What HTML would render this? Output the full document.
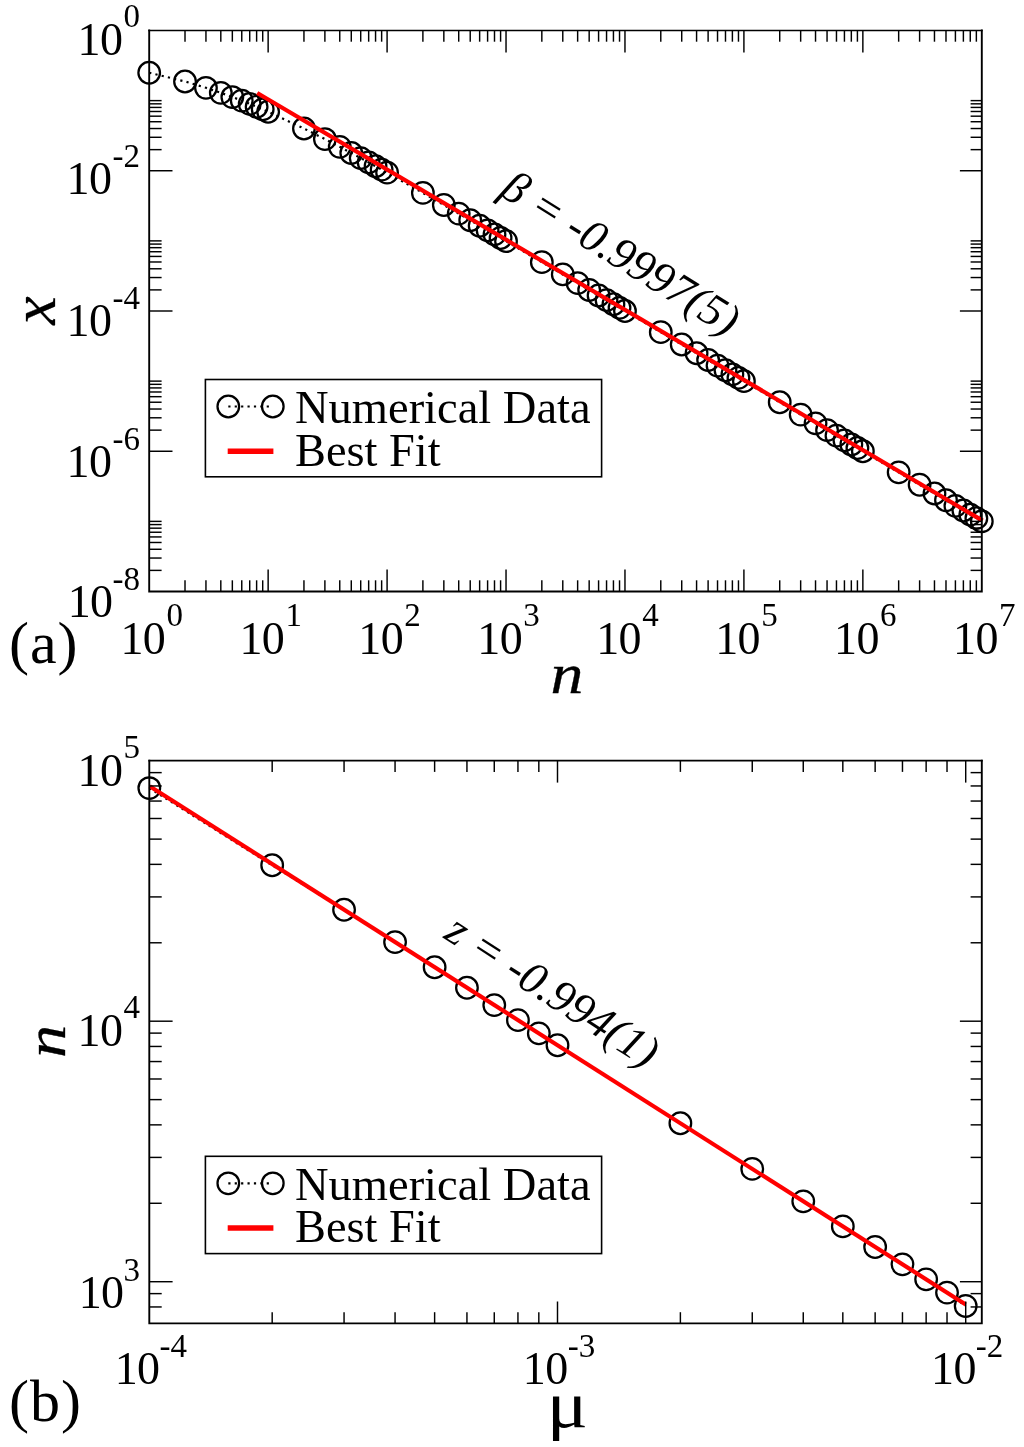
<!DOCTYPE html>
<html lang="en"><head><meta charset="utf-8"><title>Figure</title>
<style>html,body{margin:0;padding:0;background:#fff}svg{display:block}</style>
</head><body>
<svg width="1024" height="1447" viewBox="0 0 1024 1447" font-family='"Liberation Serif", "DejaVu Serif", serif' fill="#000">
<rect width="1024" height="1447" fill="#fff"/>
<g id="panelA">
<polyline points="149.20,72.72 185.01,81.48 205.95,87.80 220.81,92.84 232.34,97.05 241.76,100.68 249.72,103.88 256.62,106.75 262.70,109.35 268.14,111.73 303.95,128.49 324.89,139.05 339.75,146.82 351.28,152.97 360.70,158.07 368.66,162.43 375.56,166.23 381.64,169.61 387.09,172.65 422.89,192.92 443.84,204.96 458.70,213.56 470.22,220.25 479.64,225.73 487.60,230.37 494.50,234.40 500.59,237.96 506.03,241.14 541.83,262.13 562.78,274.43 577.64,283.17 589.17,289.95 598.58,295.50 606.55,300.18 613.44,304.25 619.53,307.83 624.97,311.03 660.78,332.13 681.72,344.47 696.58,353.23 708.11,360.02 717.53,365.57 725.49,370.27 732.39,374.33 738.47,377.92 743.91,381.13 779.72,402.24 800.66,414.58 815.53,423.35 827.05,430.14 836.47,435.69 844.43,440.39 851.33,444.45 857.41,448.04 862.86,451.25 898.66,472.36 919.61,484.71 934.47,493.47 945.99,500.27 955.41,505.82 963.38,510.51 970.27,514.58 976.36,518.17 981.80,521.38" fill="none" stroke="#000" stroke-width="2.2" stroke-dasharray="2.2 4.2"/>
<g fill="none" stroke="#000" stroke-width="2.25">
<circle cx="149.20" cy="72.72" r="10.8"/>
<circle cx="185.01" cy="81.48" r="10.8"/>
<circle cx="205.95" cy="87.80" r="10.8"/>
<circle cx="220.81" cy="92.84" r="10.8"/>
<circle cx="232.34" cy="97.05" r="10.8"/>
<circle cx="241.76" cy="100.68" r="10.8"/>
<circle cx="249.72" cy="103.88" r="10.8"/>
<circle cx="256.62" cy="106.75" r="10.8"/>
<circle cx="262.70" cy="109.35" r="10.8"/>
<circle cx="268.14" cy="111.73" r="10.8"/>
<circle cx="303.95" cy="128.49" r="10.8"/>
<circle cx="324.89" cy="139.05" r="10.8"/>
<circle cx="339.75" cy="146.82" r="10.8"/>
<circle cx="351.28" cy="152.97" r="10.8"/>
<circle cx="360.70" cy="158.07" r="10.8"/>
<circle cx="368.66" cy="162.43" r="10.8"/>
<circle cx="375.56" cy="166.23" r="10.8"/>
<circle cx="381.64" cy="169.61" r="10.8"/>
<circle cx="387.09" cy="172.65" r="10.8"/>
<circle cx="422.89" cy="192.92" r="10.8"/>
<circle cx="443.84" cy="204.96" r="10.8"/>
<circle cx="458.70" cy="213.56" r="10.8"/>
<circle cx="470.22" cy="220.25" r="10.8"/>
<circle cx="479.64" cy="225.73" r="10.8"/>
<circle cx="487.60" cy="230.37" r="10.8"/>
<circle cx="494.50" cy="234.40" r="10.8"/>
<circle cx="500.59" cy="237.96" r="10.8"/>
<circle cx="506.03" cy="241.14" r="10.8"/>
<circle cx="541.83" cy="262.13" r="10.8"/>
<circle cx="562.78" cy="274.43" r="10.8"/>
<circle cx="577.64" cy="283.17" r="10.8"/>
<circle cx="589.17" cy="289.95" r="10.8"/>
<circle cx="598.58" cy="295.50" r="10.8"/>
<circle cx="606.55" cy="300.18" r="10.8"/>
<circle cx="613.44" cy="304.25" r="10.8"/>
<circle cx="619.53" cy="307.83" r="10.8"/>
<circle cx="624.97" cy="311.03" r="10.8"/>
<circle cx="660.78" cy="332.13" r="10.8"/>
<circle cx="681.72" cy="344.47" r="10.8"/>
<circle cx="696.58" cy="353.23" r="10.8"/>
<circle cx="708.11" cy="360.02" r="10.8"/>
<circle cx="717.53" cy="365.57" r="10.8"/>
<circle cx="725.49" cy="370.27" r="10.8"/>
<circle cx="732.39" cy="374.33" r="10.8"/>
<circle cx="738.47" cy="377.92" r="10.8"/>
<circle cx="743.91" cy="381.13" r="10.8"/>
<circle cx="779.72" cy="402.24" r="10.8"/>
<circle cx="800.66" cy="414.58" r="10.8"/>
<circle cx="815.53" cy="423.35" r="10.8"/>
<circle cx="827.05" cy="430.14" r="10.8"/>
<circle cx="836.47" cy="435.69" r="10.8"/>
<circle cx="844.43" cy="440.39" r="10.8"/>
<circle cx="851.33" cy="444.45" r="10.8"/>
<circle cx="857.41" cy="448.04" r="10.8"/>
<circle cx="862.86" cy="451.25" r="10.8"/>
<circle cx="898.66" cy="472.36" r="10.8"/>
<circle cx="919.61" cy="484.71" r="10.8"/>
<circle cx="934.47" cy="493.47" r="10.8"/>
<circle cx="945.99" cy="500.27" r="10.8"/>
<circle cx="955.41" cy="505.82" r="10.8"/>
<circle cx="963.38" cy="510.51" r="10.8"/>
<circle cx="970.27" cy="514.58" r="10.8"/>
<circle cx="976.36" cy="518.17" r="10.8"/>
<circle cx="981.80" cy="521.38" r="10.8"/>
</g>
<line x1="257.20" y1="93.00" x2="982.60" y2="520.67" stroke="#f00" stroke-width="4.2" />
<path d="M149.2 30.5V591.5H981.8V30.5" fill="none" stroke="#000" stroke-width="1.9" stroke-linecap="square"/>
<line x1="148.30" y1="30.50" x2="982.70" y2="30.50" stroke="#000" stroke-width="1.5" />
<g stroke="#000" stroke-width="1.45">
<line x1="185.01" y1="30.50" x2="185.01" y2="41.70" stroke="#000" stroke-width="1.45" />
<line x1="185.01" y1="591.50" x2="185.01" y2="580.30" stroke="#000" stroke-width="1.45" />
<line x1="205.95" y1="30.50" x2="205.95" y2="41.70" stroke="#000" stroke-width="1.45" />
<line x1="205.95" y1="591.50" x2="205.95" y2="580.30" stroke="#000" stroke-width="1.45" />
<line x1="220.81" y1="30.50" x2="220.81" y2="41.70" stroke="#000" stroke-width="1.45" />
<line x1="220.81" y1="591.50" x2="220.81" y2="580.30" stroke="#000" stroke-width="1.45" />
<line x1="232.34" y1="30.50" x2="232.34" y2="41.70" stroke="#000" stroke-width="1.45" />
<line x1="232.34" y1="591.50" x2="232.34" y2="580.30" stroke="#000" stroke-width="1.45" />
<line x1="241.76" y1="30.50" x2="241.76" y2="41.70" stroke="#000" stroke-width="1.45" />
<line x1="241.76" y1="591.50" x2="241.76" y2="580.30" stroke="#000" stroke-width="1.45" />
<line x1="249.72" y1="30.50" x2="249.72" y2="41.70" stroke="#000" stroke-width="1.45" />
<line x1="249.72" y1="591.50" x2="249.72" y2="580.30" stroke="#000" stroke-width="1.45" />
<line x1="256.62" y1="30.50" x2="256.62" y2="41.70" stroke="#000" stroke-width="1.45" />
<line x1="256.62" y1="591.50" x2="256.62" y2="580.30" stroke="#000" stroke-width="1.45" />
<line x1="262.70" y1="30.50" x2="262.70" y2="41.70" stroke="#000" stroke-width="1.45" />
<line x1="262.70" y1="591.50" x2="262.70" y2="580.30" stroke="#000" stroke-width="1.45" />
<line x1="268.14" y1="30.50" x2="268.14" y2="52.40" stroke="#000" stroke-width="1.45" />
<line x1="268.14" y1="591.50" x2="268.14" y2="569.60" stroke="#000" stroke-width="1.45" />
<line x1="303.95" y1="30.50" x2="303.95" y2="41.70" stroke="#000" stroke-width="1.45" />
<line x1="303.95" y1="591.50" x2="303.95" y2="580.30" stroke="#000" stroke-width="1.45" />
<line x1="324.89" y1="30.50" x2="324.89" y2="41.70" stroke="#000" stroke-width="1.45" />
<line x1="324.89" y1="591.50" x2="324.89" y2="580.30" stroke="#000" stroke-width="1.45" />
<line x1="339.75" y1="30.50" x2="339.75" y2="41.70" stroke="#000" stroke-width="1.45" />
<line x1="339.75" y1="591.50" x2="339.75" y2="580.30" stroke="#000" stroke-width="1.45" />
<line x1="351.28" y1="30.50" x2="351.28" y2="41.70" stroke="#000" stroke-width="1.45" />
<line x1="351.28" y1="591.50" x2="351.28" y2="580.30" stroke="#000" stroke-width="1.45" />
<line x1="360.70" y1="30.50" x2="360.70" y2="41.70" stroke="#000" stroke-width="1.45" />
<line x1="360.70" y1="591.50" x2="360.70" y2="580.30" stroke="#000" stroke-width="1.45" />
<line x1="368.66" y1="30.50" x2="368.66" y2="41.70" stroke="#000" stroke-width="1.45" />
<line x1="368.66" y1="591.50" x2="368.66" y2="580.30" stroke="#000" stroke-width="1.45" />
<line x1="375.56" y1="30.50" x2="375.56" y2="41.70" stroke="#000" stroke-width="1.45" />
<line x1="375.56" y1="591.50" x2="375.56" y2="580.30" stroke="#000" stroke-width="1.45" />
<line x1="381.64" y1="30.50" x2="381.64" y2="41.70" stroke="#000" stroke-width="1.45" />
<line x1="381.64" y1="591.50" x2="381.64" y2="580.30" stroke="#000" stroke-width="1.45" />
<line x1="387.09" y1="30.50" x2="387.09" y2="52.40" stroke="#000" stroke-width="1.45" />
<line x1="387.09" y1="591.50" x2="387.09" y2="569.60" stroke="#000" stroke-width="1.45" />
<line x1="422.89" y1="30.50" x2="422.89" y2="41.70" stroke="#000" stroke-width="1.45" />
<line x1="422.89" y1="591.50" x2="422.89" y2="580.30" stroke="#000" stroke-width="1.45" />
<line x1="443.84" y1="30.50" x2="443.84" y2="41.70" stroke="#000" stroke-width="1.45" />
<line x1="443.84" y1="591.50" x2="443.84" y2="580.30" stroke="#000" stroke-width="1.45" />
<line x1="458.70" y1="30.50" x2="458.70" y2="41.70" stroke="#000" stroke-width="1.45" />
<line x1="458.70" y1="591.50" x2="458.70" y2="580.30" stroke="#000" stroke-width="1.45" />
<line x1="470.22" y1="30.50" x2="470.22" y2="41.70" stroke="#000" stroke-width="1.45" />
<line x1="470.22" y1="591.50" x2="470.22" y2="580.30" stroke="#000" stroke-width="1.45" />
<line x1="479.64" y1="30.50" x2="479.64" y2="41.70" stroke="#000" stroke-width="1.45" />
<line x1="479.64" y1="591.50" x2="479.64" y2="580.30" stroke="#000" stroke-width="1.45" />
<line x1="487.60" y1="30.50" x2="487.60" y2="41.70" stroke="#000" stroke-width="1.45" />
<line x1="487.60" y1="591.50" x2="487.60" y2="580.30" stroke="#000" stroke-width="1.45" />
<line x1="494.50" y1="30.50" x2="494.50" y2="41.70" stroke="#000" stroke-width="1.45" />
<line x1="494.50" y1="591.50" x2="494.50" y2="580.30" stroke="#000" stroke-width="1.45" />
<line x1="500.59" y1="30.50" x2="500.59" y2="41.70" stroke="#000" stroke-width="1.45" />
<line x1="500.59" y1="591.50" x2="500.59" y2="580.30" stroke="#000" stroke-width="1.45" />
<line x1="506.03" y1="30.50" x2="506.03" y2="52.40" stroke="#000" stroke-width="1.45" />
<line x1="506.03" y1="591.50" x2="506.03" y2="569.60" stroke="#000" stroke-width="1.45" />
<line x1="541.83" y1="30.50" x2="541.83" y2="41.70" stroke="#000" stroke-width="1.45" />
<line x1="541.83" y1="591.50" x2="541.83" y2="580.30" stroke="#000" stroke-width="1.45" />
<line x1="562.78" y1="30.50" x2="562.78" y2="41.70" stroke="#000" stroke-width="1.45" />
<line x1="562.78" y1="591.50" x2="562.78" y2="580.30" stroke="#000" stroke-width="1.45" />
<line x1="577.64" y1="30.50" x2="577.64" y2="41.70" stroke="#000" stroke-width="1.45" />
<line x1="577.64" y1="591.50" x2="577.64" y2="580.30" stroke="#000" stroke-width="1.45" />
<line x1="589.17" y1="30.50" x2="589.17" y2="41.70" stroke="#000" stroke-width="1.45" />
<line x1="589.17" y1="591.50" x2="589.17" y2="580.30" stroke="#000" stroke-width="1.45" />
<line x1="598.58" y1="30.50" x2="598.58" y2="41.70" stroke="#000" stroke-width="1.45" />
<line x1="598.58" y1="591.50" x2="598.58" y2="580.30" stroke="#000" stroke-width="1.45" />
<line x1="606.55" y1="30.50" x2="606.55" y2="41.70" stroke="#000" stroke-width="1.45" />
<line x1="606.55" y1="591.50" x2="606.55" y2="580.30" stroke="#000" stroke-width="1.45" />
<line x1="613.44" y1="30.50" x2="613.44" y2="41.70" stroke="#000" stroke-width="1.45" />
<line x1="613.44" y1="591.50" x2="613.44" y2="580.30" stroke="#000" stroke-width="1.45" />
<line x1="619.53" y1="30.50" x2="619.53" y2="41.70" stroke="#000" stroke-width="1.45" />
<line x1="619.53" y1="591.50" x2="619.53" y2="580.30" stroke="#000" stroke-width="1.45" />
<line x1="624.97" y1="30.50" x2="624.97" y2="52.40" stroke="#000" stroke-width="1.45" />
<line x1="624.97" y1="591.50" x2="624.97" y2="569.60" stroke="#000" stroke-width="1.45" />
<line x1="660.78" y1="30.50" x2="660.78" y2="41.70" stroke="#000" stroke-width="1.45" />
<line x1="660.78" y1="591.50" x2="660.78" y2="580.30" stroke="#000" stroke-width="1.45" />
<line x1="681.72" y1="30.50" x2="681.72" y2="41.70" stroke="#000" stroke-width="1.45" />
<line x1="681.72" y1="591.50" x2="681.72" y2="580.30" stroke="#000" stroke-width="1.45" />
<line x1="696.58" y1="30.50" x2="696.58" y2="41.70" stroke="#000" stroke-width="1.45" />
<line x1="696.58" y1="591.50" x2="696.58" y2="580.30" stroke="#000" stroke-width="1.45" />
<line x1="708.11" y1="30.50" x2="708.11" y2="41.70" stroke="#000" stroke-width="1.45" />
<line x1="708.11" y1="591.50" x2="708.11" y2="580.30" stroke="#000" stroke-width="1.45" />
<line x1="717.53" y1="30.50" x2="717.53" y2="41.70" stroke="#000" stroke-width="1.45" />
<line x1="717.53" y1="591.50" x2="717.53" y2="580.30" stroke="#000" stroke-width="1.45" />
<line x1="725.49" y1="30.50" x2="725.49" y2="41.70" stroke="#000" stroke-width="1.45" />
<line x1="725.49" y1="591.50" x2="725.49" y2="580.30" stroke="#000" stroke-width="1.45" />
<line x1="732.39" y1="30.50" x2="732.39" y2="41.70" stroke="#000" stroke-width="1.45" />
<line x1="732.39" y1="591.50" x2="732.39" y2="580.30" stroke="#000" stroke-width="1.45" />
<line x1="738.47" y1="30.50" x2="738.47" y2="41.70" stroke="#000" stroke-width="1.45" />
<line x1="738.47" y1="591.50" x2="738.47" y2="580.30" stroke="#000" stroke-width="1.45" />
<line x1="743.91" y1="30.50" x2="743.91" y2="52.40" stroke="#000" stroke-width="1.45" />
<line x1="743.91" y1="591.50" x2="743.91" y2="569.60" stroke="#000" stroke-width="1.45" />
<line x1="779.72" y1="30.50" x2="779.72" y2="41.70" stroke="#000" stroke-width="1.45" />
<line x1="779.72" y1="591.50" x2="779.72" y2="580.30" stroke="#000" stroke-width="1.45" />
<line x1="800.66" y1="30.50" x2="800.66" y2="41.70" stroke="#000" stroke-width="1.45" />
<line x1="800.66" y1="591.50" x2="800.66" y2="580.30" stroke="#000" stroke-width="1.45" />
<line x1="815.53" y1="30.50" x2="815.53" y2="41.70" stroke="#000" stroke-width="1.45" />
<line x1="815.53" y1="591.50" x2="815.53" y2="580.30" stroke="#000" stroke-width="1.45" />
<line x1="827.05" y1="30.50" x2="827.05" y2="41.70" stroke="#000" stroke-width="1.45" />
<line x1="827.05" y1="591.50" x2="827.05" y2="580.30" stroke="#000" stroke-width="1.45" />
<line x1="836.47" y1="30.50" x2="836.47" y2="41.70" stroke="#000" stroke-width="1.45" />
<line x1="836.47" y1="591.50" x2="836.47" y2="580.30" stroke="#000" stroke-width="1.45" />
<line x1="844.43" y1="30.50" x2="844.43" y2="41.70" stroke="#000" stroke-width="1.45" />
<line x1="844.43" y1="591.50" x2="844.43" y2="580.30" stroke="#000" stroke-width="1.45" />
<line x1="851.33" y1="30.50" x2="851.33" y2="41.70" stroke="#000" stroke-width="1.45" />
<line x1="851.33" y1="591.50" x2="851.33" y2="580.30" stroke="#000" stroke-width="1.45" />
<line x1="857.41" y1="30.50" x2="857.41" y2="41.70" stroke="#000" stroke-width="1.45" />
<line x1="857.41" y1="591.50" x2="857.41" y2="580.30" stroke="#000" stroke-width="1.45" />
<line x1="862.86" y1="30.50" x2="862.86" y2="52.40" stroke="#000" stroke-width="1.45" />
<line x1="862.86" y1="591.50" x2="862.86" y2="569.60" stroke="#000" stroke-width="1.45" />
<line x1="898.66" y1="30.50" x2="898.66" y2="41.70" stroke="#000" stroke-width="1.45" />
<line x1="898.66" y1="591.50" x2="898.66" y2="580.30" stroke="#000" stroke-width="1.45" />
<line x1="919.61" y1="30.50" x2="919.61" y2="41.70" stroke="#000" stroke-width="1.45" />
<line x1="919.61" y1="591.50" x2="919.61" y2="580.30" stroke="#000" stroke-width="1.45" />
<line x1="934.47" y1="30.50" x2="934.47" y2="41.70" stroke="#000" stroke-width="1.45" />
<line x1="934.47" y1="591.50" x2="934.47" y2="580.30" stroke="#000" stroke-width="1.45" />
<line x1="945.99" y1="30.50" x2="945.99" y2="41.70" stroke="#000" stroke-width="1.45" />
<line x1="945.99" y1="591.50" x2="945.99" y2="580.30" stroke="#000" stroke-width="1.45" />
<line x1="955.41" y1="30.50" x2="955.41" y2="41.70" stroke="#000" stroke-width="1.45" />
<line x1="955.41" y1="591.50" x2="955.41" y2="580.30" stroke="#000" stroke-width="1.45" />
<line x1="963.38" y1="30.50" x2="963.38" y2="41.70" stroke="#000" stroke-width="1.45" />
<line x1="963.38" y1="591.50" x2="963.38" y2="580.30" stroke="#000" stroke-width="1.45" />
<line x1="970.27" y1="30.50" x2="970.27" y2="41.70" stroke="#000" stroke-width="1.45" />
<line x1="970.27" y1="591.50" x2="970.27" y2="580.30" stroke="#000" stroke-width="1.45" />
<line x1="976.36" y1="30.50" x2="976.36" y2="41.70" stroke="#000" stroke-width="1.45" />
<line x1="976.36" y1="591.50" x2="976.36" y2="580.30" stroke="#000" stroke-width="1.45" />
<line x1="149.20" y1="149.64" x2="161.60" y2="149.64" stroke="#000" stroke-width="1.45" />
<line x1="981.80" y1="149.64" x2="970.60" y2="149.64" stroke="#000" stroke-width="1.45" />
<line x1="149.20" y1="137.29" x2="161.60" y2="137.29" stroke="#000" stroke-width="1.45" />
<line x1="981.80" y1="137.29" x2="970.60" y2="137.29" stroke="#000" stroke-width="1.45" />
<line x1="149.20" y1="128.53" x2="161.60" y2="128.53" stroke="#000" stroke-width="1.45" />
<line x1="981.80" y1="128.53" x2="970.60" y2="128.53" stroke="#000" stroke-width="1.45" />
<line x1="149.20" y1="121.73" x2="161.60" y2="121.73" stroke="#000" stroke-width="1.45" />
<line x1="981.80" y1="121.73" x2="970.60" y2="121.73" stroke="#000" stroke-width="1.45" />
<line x1="149.20" y1="116.18" x2="161.60" y2="116.18" stroke="#000" stroke-width="1.45" />
<line x1="981.80" y1="116.18" x2="970.60" y2="116.18" stroke="#000" stroke-width="1.45" />
<line x1="149.20" y1="111.49" x2="161.60" y2="111.49" stroke="#000" stroke-width="1.45" />
<line x1="981.80" y1="111.49" x2="970.60" y2="111.49" stroke="#000" stroke-width="1.45" />
<line x1="149.20" y1="107.42" x2="161.60" y2="107.42" stroke="#000" stroke-width="1.45" />
<line x1="981.80" y1="107.42" x2="970.60" y2="107.42" stroke="#000" stroke-width="1.45" />
<line x1="149.20" y1="103.83" x2="161.60" y2="103.83" stroke="#000" stroke-width="1.45" />
<line x1="981.80" y1="103.83" x2="970.60" y2="103.83" stroke="#000" stroke-width="1.45" />
<line x1="149.20" y1="100.62" x2="161.60" y2="100.62" stroke="#000" stroke-width="1.45" />
<line x1="981.80" y1="100.62" x2="970.60" y2="100.62" stroke="#000" stroke-width="1.45" />
<line x1="149.20" y1="170.75" x2="172.50" y2="170.75" stroke="#000" stroke-width="1.45" />
<line x1="981.80" y1="170.75" x2="959.90" y2="170.75" stroke="#000" stroke-width="1.45" />
<line x1="149.20" y1="289.89" x2="161.60" y2="289.89" stroke="#000" stroke-width="1.45" />
<line x1="981.80" y1="289.89" x2="970.60" y2="289.89" stroke="#000" stroke-width="1.45" />
<line x1="149.20" y1="277.54" x2="161.60" y2="277.54" stroke="#000" stroke-width="1.45" />
<line x1="981.80" y1="277.54" x2="970.60" y2="277.54" stroke="#000" stroke-width="1.45" />
<line x1="149.20" y1="268.78" x2="161.60" y2="268.78" stroke="#000" stroke-width="1.45" />
<line x1="981.80" y1="268.78" x2="970.60" y2="268.78" stroke="#000" stroke-width="1.45" />
<line x1="149.20" y1="261.98" x2="161.60" y2="261.98" stroke="#000" stroke-width="1.45" />
<line x1="981.80" y1="261.98" x2="970.60" y2="261.98" stroke="#000" stroke-width="1.45" />
<line x1="149.20" y1="256.43" x2="161.60" y2="256.43" stroke="#000" stroke-width="1.45" />
<line x1="981.80" y1="256.43" x2="970.60" y2="256.43" stroke="#000" stroke-width="1.45" />
<line x1="149.20" y1="251.74" x2="161.60" y2="251.74" stroke="#000" stroke-width="1.45" />
<line x1="981.80" y1="251.74" x2="970.60" y2="251.74" stroke="#000" stroke-width="1.45" />
<line x1="149.20" y1="247.67" x2="161.60" y2="247.67" stroke="#000" stroke-width="1.45" />
<line x1="981.80" y1="247.67" x2="970.60" y2="247.67" stroke="#000" stroke-width="1.45" />
<line x1="149.20" y1="244.08" x2="161.60" y2="244.08" stroke="#000" stroke-width="1.45" />
<line x1="981.80" y1="244.08" x2="970.60" y2="244.08" stroke="#000" stroke-width="1.45" />
<line x1="149.20" y1="240.88" x2="161.60" y2="240.88" stroke="#000" stroke-width="1.45" />
<line x1="981.80" y1="240.88" x2="970.60" y2="240.88" stroke="#000" stroke-width="1.45" />
<line x1="149.20" y1="311.00" x2="172.50" y2="311.00" stroke="#000" stroke-width="1.45" />
<line x1="981.80" y1="311.00" x2="959.90" y2="311.00" stroke="#000" stroke-width="1.45" />
<line x1="149.20" y1="430.14" x2="161.60" y2="430.14" stroke="#000" stroke-width="1.45" />
<line x1="981.80" y1="430.14" x2="970.60" y2="430.14" stroke="#000" stroke-width="1.45" />
<line x1="149.20" y1="417.79" x2="161.60" y2="417.79" stroke="#000" stroke-width="1.45" />
<line x1="981.80" y1="417.79" x2="970.60" y2="417.79" stroke="#000" stroke-width="1.45" />
<line x1="149.20" y1="409.03" x2="161.60" y2="409.03" stroke="#000" stroke-width="1.45" />
<line x1="981.80" y1="409.03" x2="970.60" y2="409.03" stroke="#000" stroke-width="1.45" />
<line x1="149.20" y1="402.23" x2="161.60" y2="402.23" stroke="#000" stroke-width="1.45" />
<line x1="981.80" y1="402.23" x2="970.60" y2="402.23" stroke="#000" stroke-width="1.45" />
<line x1="149.20" y1="396.68" x2="161.60" y2="396.68" stroke="#000" stroke-width="1.45" />
<line x1="981.80" y1="396.68" x2="970.60" y2="396.68" stroke="#000" stroke-width="1.45" />
<line x1="149.20" y1="391.99" x2="161.60" y2="391.99" stroke="#000" stroke-width="1.45" />
<line x1="981.80" y1="391.99" x2="970.60" y2="391.99" stroke="#000" stroke-width="1.45" />
<line x1="149.20" y1="387.92" x2="161.60" y2="387.92" stroke="#000" stroke-width="1.45" />
<line x1="981.80" y1="387.92" x2="970.60" y2="387.92" stroke="#000" stroke-width="1.45" />
<line x1="149.20" y1="384.33" x2="161.60" y2="384.33" stroke="#000" stroke-width="1.45" />
<line x1="981.80" y1="384.33" x2="970.60" y2="384.33" stroke="#000" stroke-width="1.45" />
<line x1="149.20" y1="381.12" x2="161.60" y2="381.12" stroke="#000" stroke-width="1.45" />
<line x1="981.80" y1="381.12" x2="970.60" y2="381.12" stroke="#000" stroke-width="1.45" />
<line x1="149.20" y1="451.25" x2="172.50" y2="451.25" stroke="#000" stroke-width="1.45" />
<line x1="981.80" y1="451.25" x2="959.90" y2="451.25" stroke="#000" stroke-width="1.45" />
<line x1="149.20" y1="570.39" x2="161.60" y2="570.39" stroke="#000" stroke-width="1.45" />
<line x1="981.80" y1="570.39" x2="970.60" y2="570.39" stroke="#000" stroke-width="1.45" />
<line x1="149.20" y1="558.04" x2="161.60" y2="558.04" stroke="#000" stroke-width="1.45" />
<line x1="981.80" y1="558.04" x2="970.60" y2="558.04" stroke="#000" stroke-width="1.45" />
<line x1="149.20" y1="549.28" x2="161.60" y2="549.28" stroke="#000" stroke-width="1.45" />
<line x1="981.80" y1="549.28" x2="970.60" y2="549.28" stroke="#000" stroke-width="1.45" />
<line x1="149.20" y1="542.48" x2="161.60" y2="542.48" stroke="#000" stroke-width="1.45" />
<line x1="981.80" y1="542.48" x2="970.60" y2="542.48" stroke="#000" stroke-width="1.45" />
<line x1="149.20" y1="536.93" x2="161.60" y2="536.93" stroke="#000" stroke-width="1.45" />
<line x1="981.80" y1="536.93" x2="970.60" y2="536.93" stroke="#000" stroke-width="1.45" />
<line x1="149.20" y1="532.24" x2="161.60" y2="532.24" stroke="#000" stroke-width="1.45" />
<line x1="981.80" y1="532.24" x2="970.60" y2="532.24" stroke="#000" stroke-width="1.45" />
<line x1="149.20" y1="528.17" x2="161.60" y2="528.17" stroke="#000" stroke-width="1.45" />
<line x1="981.80" y1="528.17" x2="970.60" y2="528.17" stroke="#000" stroke-width="1.45" />
<line x1="149.20" y1="524.58" x2="161.60" y2="524.58" stroke="#000" stroke-width="1.45" />
<line x1="981.80" y1="524.58" x2="970.60" y2="524.58" stroke="#000" stroke-width="1.45" />
<line x1="149.20" y1="521.38" x2="161.60" y2="521.38" stroke="#000" stroke-width="1.45" />
<line x1="981.80" y1="521.38" x2="970.60" y2="521.38" stroke="#000" stroke-width="1.45" />
</g>
<text x="151.70" y="653.80" font-size="46" text-anchor="middle"><tspan letter-spacing="-0.6">10</tspan><tspan font-size="33" dx="1.2" dy="-27.5">0</tspan></text>
<text x="270.64" y="653.80" font-size="46" text-anchor="middle"><tspan letter-spacing="-0.6">10</tspan><tspan font-size="33" dx="1.2" dy="-27.5">1</tspan></text>
<text x="389.59" y="653.80" font-size="46" text-anchor="middle"><tspan letter-spacing="-0.6">10</tspan><tspan font-size="33" dx="1.2" dy="-27.5">2</tspan></text>
<text x="508.53" y="653.80" font-size="46" text-anchor="middle"><tspan letter-spacing="-0.6">10</tspan><tspan font-size="33" dx="1.2" dy="-27.5">3</tspan></text>
<text x="627.47" y="653.80" font-size="46" text-anchor="middle"><tspan letter-spacing="-0.6">10</tspan><tspan font-size="33" dx="1.2" dy="-27.5">4</tspan></text>
<text x="746.41" y="653.80" font-size="46" text-anchor="middle"><tspan letter-spacing="-0.6">10</tspan><tspan font-size="33" dx="1.2" dy="-27.5">5</tspan></text>
<text x="865.36" y="653.80" font-size="46" text-anchor="middle"><tspan letter-spacing="-0.6">10</tspan><tspan font-size="33" dx="1.2" dy="-27.5">6</tspan></text>
<text x="984.30" y="653.80" font-size="46" text-anchor="middle"><tspan letter-spacing="-0.6">10</tspan><tspan font-size="33" dx="1.2" dy="-27.5">7</tspan></text>
<text x="140.00" y="54.70" font-size="46" text-anchor="end"><tspan letter-spacing="-0.6">10</tspan><tspan font-size="33" dx="1.2" dy="-27.5">0</tspan></text>
<text x="140.00" y="194.35" font-size="46" text-anchor="end"><tspan letter-spacing="-0.6">10</tspan><tspan font-size="33" dx="1.2" dy="-27.5">-2</tspan></text>
<text x="140.00" y="336.20" font-size="46" text-anchor="end"><tspan letter-spacing="-0.6">10</tspan><tspan font-size="33" dx="1.2" dy="-27.5">-4</tspan></text>
<text x="140.00" y="477.25" font-size="46" text-anchor="end"><tspan letter-spacing="-0.6">10</tspan><tspan font-size="33" dx="1.2" dy="-27.5">-6</tspan></text>
<text x="140.00" y="617.10" font-size="46" text-anchor="end"><tspan letter-spacing="-0.6">10</tspan><tspan font-size="33" dx="0" dy="-27.5">-8</tspan></text>
<text transform="translate(567,692.6) scale(1.06,0.92)" font-size="62" font-style="italic" text-anchor="middle" stroke="#000" stroke-width="0.35">n</text>
<text transform="translate(54.7,310.5) rotate(-90)" font-size="64" font-style="italic" text-anchor="middle" stroke="#000" stroke-width="0.25">x</text>
<text x="9" y="662.5" font-size="60" letter-spacing="1">(a)</text>
<rect x="205.4" y="379.5" width="396.2" height="97.3" fill="#fff" stroke="#000" stroke-width="1.6"/>
<line x1="228.30" y1="406.50" x2="272.80" y2="406.50" stroke="#000" stroke-width="2.2" stroke-dasharray="2.2 4.2"/>
<circle cx="228.3" cy="406.5" r="10.8" fill="none" stroke="#000" stroke-width="2.25"/>
<circle cx="272.8" cy="406.5" r="10.8" fill="none" stroke="#000" stroke-width="2.25"/>
<text x="295.0" y="422.7" font-size="46.5">Numerical Data</text>
<line x1="227.70" y1="451.20" x2="273.40" y2="451.20" stroke="#f00" stroke-width="5.4" />
<text x="295.0" y="465.6" font-size="46.4">Best Fit</text>
<text transform="translate(498.3,194.6) rotate(31.8)" font-size="45.6" font-style="italic">β = -0.9997(5)</text>
</g>
<g id="panelB">
<polyline points="149.30,788.05 272.18,865.28 344.06,909.72 395.06,942.10 434.62,967.22 466.94,987.75 494.27,1005.10 517.94,1020.13 538.82,1033.39 557.50,1045.25 680.38,1123.28 752.26,1168.93 803.26,1201.31 842.82,1226.43 875.14,1246.96 902.47,1264.31 926.14,1279.34 947.02,1292.60 965.70,1305.96" fill="none" stroke="#000" stroke-width="2.2" stroke-dasharray="2.2 4.2"/>
<g fill="none" stroke="#000" stroke-width="2.25">
<circle cx="149.30" cy="788.05" r="10.8"/>
<circle cx="272.18" cy="865.28" r="10.8"/>
<circle cx="344.06" cy="909.72" r="10.8"/>
<circle cx="395.06" cy="942.10" r="10.8"/>
<circle cx="434.62" cy="967.22" r="10.8"/>
<circle cx="466.94" cy="987.75" r="10.8"/>
<circle cx="494.27" cy="1005.10" r="10.8"/>
<circle cx="517.94" cy="1020.13" r="10.8"/>
<circle cx="538.82" cy="1033.39" r="10.8"/>
<circle cx="557.50" cy="1045.25" r="10.8"/>
<circle cx="680.38" cy="1123.28" r="10.8"/>
<circle cx="752.26" cy="1168.93" r="10.8"/>
<circle cx="803.26" cy="1201.31" r="10.8"/>
<circle cx="842.82" cy="1226.43" r="10.8"/>
<circle cx="875.14" cy="1246.96" r="10.8"/>
<circle cx="902.47" cy="1264.31" r="10.8"/>
<circle cx="926.14" cy="1279.34" r="10.8"/>
<circle cx="947.02" cy="1292.60" r="10.8"/>
<circle cx="965.70" cy="1305.96" r="10.8"/>
</g>
<line x1="149.70" y1="786.30" x2="965.70" y2="1304.46" stroke="#f00" stroke-width="4.2" />
<path d="M149.3 760.7V1323.4H981.8V760.7" fill="none" stroke="#000" stroke-width="1.9" stroke-linecap="square"/>
<line x1="148.40" y1="760.70" x2="982.70" y2="760.70" stroke="#000" stroke-width="1.7" />
<g stroke="#000" stroke-width="1.45">
<line x1="272.18" y1="760.70" x2="272.18" y2="771.90" stroke="#000" stroke-width="1.45" />
<line x1="272.18" y1="1323.40" x2="272.18" y2="1312.20" stroke="#000" stroke-width="1.45" />
<line x1="344.06" y1="760.70" x2="344.06" y2="771.90" stroke="#000" stroke-width="1.45" />
<line x1="344.06" y1="1323.40" x2="344.06" y2="1312.20" stroke="#000" stroke-width="1.45" />
<line x1="395.06" y1="760.70" x2="395.06" y2="771.90" stroke="#000" stroke-width="1.45" />
<line x1="395.06" y1="1323.40" x2="395.06" y2="1312.20" stroke="#000" stroke-width="1.45" />
<line x1="434.62" y1="760.70" x2="434.62" y2="771.90" stroke="#000" stroke-width="1.45" />
<line x1="434.62" y1="1323.40" x2="434.62" y2="1312.20" stroke="#000" stroke-width="1.45" />
<line x1="466.94" y1="760.70" x2="466.94" y2="771.90" stroke="#000" stroke-width="1.45" />
<line x1="466.94" y1="1323.40" x2="466.94" y2="1312.20" stroke="#000" stroke-width="1.45" />
<line x1="494.27" y1="760.70" x2="494.27" y2="771.90" stroke="#000" stroke-width="1.45" />
<line x1="494.27" y1="1323.40" x2="494.27" y2="1312.20" stroke="#000" stroke-width="1.45" />
<line x1="517.94" y1="760.70" x2="517.94" y2="771.90" stroke="#000" stroke-width="1.45" />
<line x1="517.94" y1="1323.40" x2="517.94" y2="1312.20" stroke="#000" stroke-width="1.45" />
<line x1="538.82" y1="760.70" x2="538.82" y2="771.90" stroke="#000" stroke-width="1.45" />
<line x1="538.82" y1="1323.40" x2="538.82" y2="1312.20" stroke="#000" stroke-width="1.45" />
<line x1="557.50" y1="760.70" x2="557.50" y2="782.60" stroke="#000" stroke-width="1.45" />
<line x1="557.50" y1="1323.40" x2="557.50" y2="1301.50" stroke="#000" stroke-width="1.45" />
<line x1="680.38" y1="760.70" x2="680.38" y2="771.90" stroke="#000" stroke-width="1.45" />
<line x1="680.38" y1="1323.40" x2="680.38" y2="1312.20" stroke="#000" stroke-width="1.45" />
<line x1="752.26" y1="760.70" x2="752.26" y2="771.90" stroke="#000" stroke-width="1.45" />
<line x1="752.26" y1="1323.40" x2="752.26" y2="1312.20" stroke="#000" stroke-width="1.45" />
<line x1="803.26" y1="760.70" x2="803.26" y2="771.90" stroke="#000" stroke-width="1.45" />
<line x1="803.26" y1="1323.40" x2="803.26" y2="1312.20" stroke="#000" stroke-width="1.45" />
<line x1="842.82" y1="760.70" x2="842.82" y2="771.90" stroke="#000" stroke-width="1.45" />
<line x1="842.82" y1="1323.40" x2="842.82" y2="1312.20" stroke="#000" stroke-width="1.45" />
<line x1="875.14" y1="760.70" x2="875.14" y2="771.90" stroke="#000" stroke-width="1.45" />
<line x1="875.14" y1="1323.40" x2="875.14" y2="1312.20" stroke="#000" stroke-width="1.45" />
<line x1="902.47" y1="760.70" x2="902.47" y2="771.90" stroke="#000" stroke-width="1.45" />
<line x1="902.47" y1="1323.40" x2="902.47" y2="1312.20" stroke="#000" stroke-width="1.45" />
<line x1="926.14" y1="760.70" x2="926.14" y2="771.90" stroke="#000" stroke-width="1.45" />
<line x1="926.14" y1="1323.40" x2="926.14" y2="1312.20" stroke="#000" stroke-width="1.45" />
<line x1="947.02" y1="760.70" x2="947.02" y2="771.90" stroke="#000" stroke-width="1.45" />
<line x1="947.02" y1="1323.40" x2="947.02" y2="1312.20" stroke="#000" stroke-width="1.45" />
<line x1="965.70" y1="760.70" x2="965.70" y2="782.60" stroke="#000" stroke-width="1.45" />
<line x1="965.70" y1="1323.40" x2="965.70" y2="1301.50" stroke="#000" stroke-width="1.45" />
<line x1="149.30" y1="942.78" x2="161.70" y2="942.78" stroke="#000" stroke-width="1.45" />
<line x1="981.80" y1="942.78" x2="970.60" y2="942.78" stroke="#000" stroke-width="1.45" />
<line x1="149.30" y1="896.91" x2="161.70" y2="896.91" stroke="#000" stroke-width="1.45" />
<line x1="981.80" y1="896.91" x2="970.60" y2="896.91" stroke="#000" stroke-width="1.45" />
<line x1="149.30" y1="864.36" x2="161.70" y2="864.36" stroke="#000" stroke-width="1.45" />
<line x1="981.80" y1="864.36" x2="970.60" y2="864.36" stroke="#000" stroke-width="1.45" />
<line x1="149.30" y1="839.12" x2="161.70" y2="839.12" stroke="#000" stroke-width="1.45" />
<line x1="981.80" y1="839.12" x2="970.60" y2="839.12" stroke="#000" stroke-width="1.45" />
<line x1="149.30" y1="818.49" x2="161.70" y2="818.49" stroke="#000" stroke-width="1.45" />
<line x1="981.80" y1="818.49" x2="970.60" y2="818.49" stroke="#000" stroke-width="1.45" />
<line x1="149.30" y1="801.05" x2="161.70" y2="801.05" stroke="#000" stroke-width="1.45" />
<line x1="981.80" y1="801.05" x2="970.60" y2="801.05" stroke="#000" stroke-width="1.45" />
<line x1="149.30" y1="785.95" x2="161.70" y2="785.95" stroke="#000" stroke-width="1.45" />
<line x1="981.80" y1="785.95" x2="970.60" y2="785.95" stroke="#000" stroke-width="1.45" />
<line x1="149.30" y1="772.62" x2="161.70" y2="772.62" stroke="#000" stroke-width="1.45" />
<line x1="981.80" y1="772.62" x2="970.60" y2="772.62" stroke="#000" stroke-width="1.45" />
<line x1="149.30" y1="1021.20" x2="172.60" y2="1021.20" stroke="#000" stroke-width="1.45" />
<line x1="981.80" y1="1021.20" x2="959.90" y2="1021.20" stroke="#000" stroke-width="1.45" />
<line x1="149.30" y1="1203.28" x2="161.70" y2="1203.28" stroke="#000" stroke-width="1.45" />
<line x1="981.80" y1="1203.28" x2="970.60" y2="1203.28" stroke="#000" stroke-width="1.45" />
<line x1="149.30" y1="1157.41" x2="161.70" y2="1157.41" stroke="#000" stroke-width="1.45" />
<line x1="981.80" y1="1157.41" x2="970.60" y2="1157.41" stroke="#000" stroke-width="1.45" />
<line x1="149.30" y1="1124.86" x2="161.70" y2="1124.86" stroke="#000" stroke-width="1.45" />
<line x1="981.80" y1="1124.86" x2="970.60" y2="1124.86" stroke="#000" stroke-width="1.45" />
<line x1="149.30" y1="1099.62" x2="161.70" y2="1099.62" stroke="#000" stroke-width="1.45" />
<line x1="981.80" y1="1099.62" x2="970.60" y2="1099.62" stroke="#000" stroke-width="1.45" />
<line x1="149.30" y1="1078.99" x2="161.70" y2="1078.99" stroke="#000" stroke-width="1.45" />
<line x1="981.80" y1="1078.99" x2="970.60" y2="1078.99" stroke="#000" stroke-width="1.45" />
<line x1="149.30" y1="1061.55" x2="161.70" y2="1061.55" stroke="#000" stroke-width="1.45" />
<line x1="981.80" y1="1061.55" x2="970.60" y2="1061.55" stroke="#000" stroke-width="1.45" />
<line x1="149.30" y1="1046.45" x2="161.70" y2="1046.45" stroke="#000" stroke-width="1.45" />
<line x1="981.80" y1="1046.45" x2="970.60" y2="1046.45" stroke="#000" stroke-width="1.45" />
<line x1="149.30" y1="1033.12" x2="161.70" y2="1033.12" stroke="#000" stroke-width="1.45" />
<line x1="981.80" y1="1033.12" x2="970.60" y2="1033.12" stroke="#000" stroke-width="1.45" />
<line x1="149.30" y1="1281.70" x2="172.60" y2="1281.70" stroke="#000" stroke-width="1.45" />
<line x1="981.80" y1="1281.70" x2="959.90" y2="1281.70" stroke="#000" stroke-width="1.45" />
<line x1="149.30" y1="1306.95" x2="161.70" y2="1306.95" stroke="#000" stroke-width="1.45" />
<line x1="981.80" y1="1306.95" x2="970.60" y2="1306.95" stroke="#000" stroke-width="1.45" />
<line x1="149.30" y1="1293.62" x2="161.70" y2="1293.62" stroke="#000" stroke-width="1.45" />
<line x1="981.80" y1="1293.62" x2="970.60" y2="1293.62" stroke="#000" stroke-width="1.45" />
</g>
<text x="150.80" y="1384.00" font-size="46" text-anchor="middle"><tspan letter-spacing="-0.6">10</tspan><tspan font-size="33" dx="0" dy="-27.5">-4</tspan></text>
<text x="559.00" y="1384.00" font-size="46" text-anchor="middle"><tspan letter-spacing="-0.6">10</tspan><tspan font-size="33" dx="0" dy="-27.5">-3</tspan></text>
<text x="967.20" y="1384.00" font-size="46" text-anchor="middle"><tspan letter-spacing="-0.6">10</tspan><tspan font-size="33" dx="0" dy="-27.5">-2</tspan></text>
<text x="140.00" y="785.70" font-size="46" text-anchor="end"><tspan letter-spacing="-0.6">10</tspan><tspan font-size="33" dx="1.2" dy="-27.5">5</tspan></text>
<text x="140.00" y="1045.80" font-size="46" text-anchor="end"><tspan letter-spacing="-0.6">10</tspan><tspan font-size="33" dx="1.2" dy="-27.5">4</tspan></text>
<text x="140.00" y="1308.10" font-size="46" text-anchor="end"><tspan letter-spacing="-0.6">10</tspan><tspan font-size="33" dx="0" dy="-27.5">3</tspan></text>
<text transform="translate(567.3,1427) scale(1.2,1.03)" font-size="64" text-anchor="middle">μ</text>
<text transform="translate(64.6,1041.4) rotate(-90) scale(1.06,0.92)" font-size="62" font-style="italic" text-anchor="middle" stroke="#000" stroke-width="0.35">n</text>
<text x="9" y="1420.5" font-size="60" letter-spacing="1">(b)</text>
<rect x="205.4" y="1156.3" width="396.2" height="97.3" fill="#fff" stroke="#000" stroke-width="1.6"/>
<line x1="228.30" y1="1183.30" x2="272.80" y2="1183.30" stroke="#000" stroke-width="2.2" stroke-dasharray="2.2 4.2"/>
<circle cx="228.3" cy="1183.3" r="10.8" fill="none" stroke="#000" stroke-width="2.25"/>
<circle cx="272.8" cy="1183.3" r="10.8" fill="none" stroke="#000" stroke-width="2.25"/>
<text x="295.0" y="1199.5" font-size="46.5">Numerical Data</text>
<line x1="227.70" y1="1228.00" x2="273.40" y2="1228.00" stroke="#f00" stroke-width="5.4" />
<text x="295.0" y="1242.3999999999999" font-size="46.4">Best Fit</text>
<text transform="translate(442.6,937.5) rotate(32.8)" font-size="45.7" font-style="italic">z = -0.994(1)</text>
</g>
</svg>
</body></html>
